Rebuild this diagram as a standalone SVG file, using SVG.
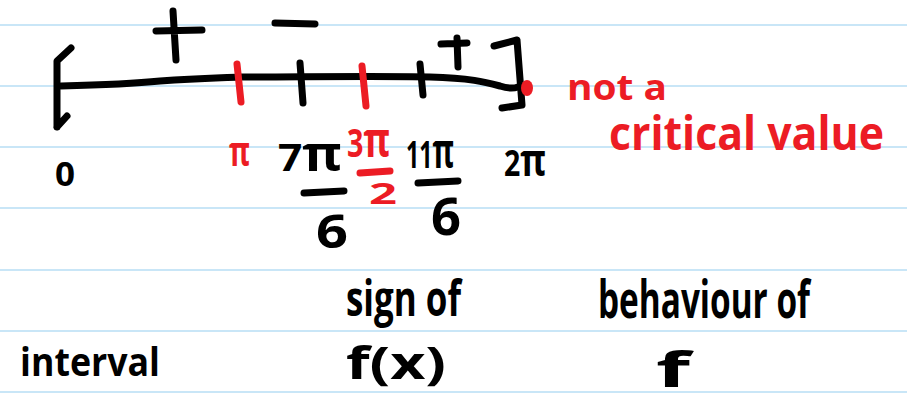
<svg xmlns="http://www.w3.org/2000/svg" width="907" height="393" viewBox="0 0 907 393">
<style>
.rule{stroke:#c9e6f7;stroke-width:2}
.ink{fill:none;stroke:#000;stroke-width:7;stroke-linecap:round;stroke-linejoin:round}
.red{fill:none;stroke:#ec1c24;stroke-width:7;stroke-linecap:round;stroke-linejoin:round}
.t{font-family:"Open Sans","Liberation Sans",sans-serif;font-weight:700;fill:#000}
.tr{font-family:"Open Sans","Liberation Sans",sans-serif;font-weight:700;fill:#ec1c24}
</style>
<rect width="907" height="393" fill="#fff"/>
<g id="rules">
<line class="rule" x1="0" y1="25" x2="907" y2="25"/>
<line class="rule" x1="0" y1="86" x2="907" y2="86"/>
<line class="rule" x1="0" y1="147" x2="907" y2="147"/>
<line class="rule" x1="0" y1="208" x2="907" y2="208"/>
<line class="rule" x1="0" y1="270" x2="907" y2="270"/>
<line class="rule" x1="0" y1="331" x2="907" y2="331"/>
<line class="rule" x1="0" y1="392" x2="907" y2="392"/>
</g>
<g id="number-line">
<path class="ink" d="M71,48 L57,61 L57,127 M57,127 L67,116"/>
<path class="ink" d="M61,86 C100,85 130,84 160,81 C200,78 220,78 240,77 C300,77 380,76 430,77 C470,78 485,82 500,86 C506,88 512,89 518,87"/>
<path class="ink" d="M494,46 L517,40 L522,105 L502,108"/>
<path class="ink" d="M173,11 L176,60 M156,31 L202,30"/>
<path class="ink" d="M275,23 L315,24"/>
<path class="ink" d="M457,38 L458,67 M441,44 L467,43"/>
<path class="ink" d="M300,63 L303,103"/>
<path class="ink" d="M420,64 L423,95"/>
<path class="red" d="M237,64 L241,102"/>
<path class="red" d="M362,66 L366,106"/>
<ellipse cx="527" cy="88" rx="6" ry="8" fill="#ec1c24"/>
</g>
<g id="labels">
<text class="t" x="55" y="186" font-size="34" textLength="20" lengthAdjust="spacingAndGlyphs">0</text>
<text class="tr" x="229" y="166" font-size="42" textLength="21" lengthAdjust="spacingAndGlyphs">π</text>
<text class="t" x="278" y="171" font-size="38" textLength="64" lengthAdjust="spacingAndGlyphs">7<tspan font-size="48">π</tspan></text>
<path class="ink" d="M304,193 L344,191"/>
<text class="t" x="316" y="248" font-size="46" textLength="32" lengthAdjust="spacingAndGlyphs">6</text>
<text class="tr" x="347" y="157" font-size="40" textLength="43" lengthAdjust="spacingAndGlyphs">3<tspan font-size="50">π</tspan></text>
<path class="red" d="M360,173 L390,171"/>
<text class="tr" x="369" y="204" font-size="28" textLength="28" lengthAdjust="spacingAndGlyphs">2</text>
<text class="t" x="406" y="168" font-size="38" textLength="48" lengthAdjust="spacingAndGlyphs">11<tspan font-size="48">π</tspan></text>
<path class="ink" d="M418,183 L458,181"/>
<text class="t" x="431" y="235" font-size="52" textLength="30" lengthAdjust="spacingAndGlyphs">6</text>
<text class="t" x="504" y="176" font-size="36" textLength="42" lengthAdjust="spacingAndGlyphs">2<tspan font-size="44">π</tspan></text>
<text class="tr" x="567" y="100" font-size="36" textLength="100" lengthAdjust="spacingAndGlyphs">not a</text>
<text class="tr" x="609" y="150" font-size="46" textLength="275" lengthAdjust="spacingAndGlyphs">critical  value</text>
</g>
<g id="headings">
<text class="t" x="20" y="376" font-size="40" textLength="140" lengthAdjust="spacingAndGlyphs">interval</text>
<text class="t" x="346" y="316" font-size="50" textLength="115" lengthAdjust="spacingAndGlyphs">sign of</text>
<text class="t" x="346" y="379" font-size="44" textLength="100" lengthAdjust="spacingAndGlyphs">f(x)</text>
<text class="t" x="598" y="318" font-size="52" textLength="212" lengthAdjust="spacingAndGlyphs">behaviour of</text>
<text class="t" x="656" y="387" font-size="48" textLength="34" lengthAdjust="spacingAndGlyphs">f</text>
</g>
</svg>
